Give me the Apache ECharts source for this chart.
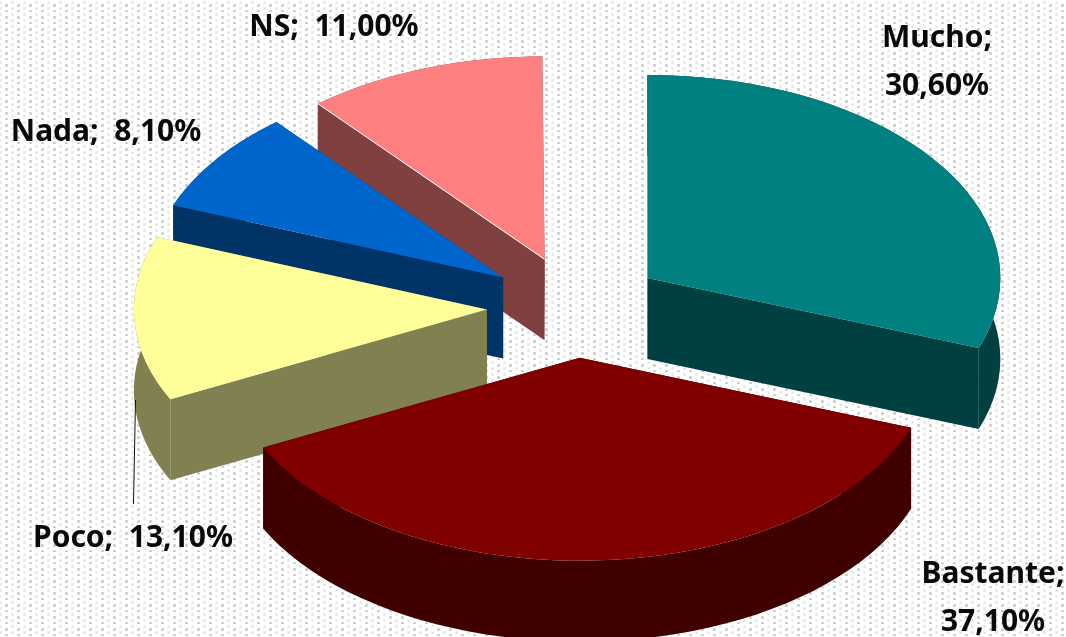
<!DOCTYPE html>
<html><head><meta charset="utf-8">
<style>html,body{margin:0;padding:0;background:#fff}#c{width:1066px;height:637px}</style>
<script src="https://cdn.jsdelivr.net/npm/echarts@6/dist/echarts.min.js"></script>
</head><body><div id="c"></div>
<script>
// Data
var categories = ['Mucho', 'Bastante', 'Poco', 'Nada', 'NS'];
var values = [30.6, 37.1, 13.1, 8.1, 11.0];
var valueLabels = ['30,60%', '37,10%', '13,10%', '8,10%', '11,00%'];

// Styles and layout
var topColors = ['#008080', '#800000', '#FFFF99', '#0066CC', '#FF8080'];
var sideColors = ['#004040', '#400000', '#808050', '#003366', '#804040'];
var paintOrder = [4, 3, 2, 0, 1];
var centre = [575, 307], rx = 353, ry = 203, depth = 81, explode = 0.25;
var labelPos = [[937, 62], [993, 598], [133, 538], [106, 132], [334, 27]];
var labelBreak = [true, true, false, false, false];

// Dotted backdrop
var tile = document.createElement('canvas');
tile.width = 12; tile.height = 12;
(function () {
  var g = tile.getContext('2d');
  g.fillStyle = '#fff'; g.fillRect(0, 0, 12, 12);
  [[6, 5, .28], [6, 11, .28], [0, 2, .12], [0, 8, .12]].forEach(function (d) {
    g.fillStyle = 'rgba(120,120,120,' + d[2] + ')';
    g.fillRect((d[0] + 11) % 12, d[1] - 1, 1, 3);
    g.fillRect(d[0], d[1] - 1, 1, 3);
    g.fillRect((d[0] + 1) % 12, d[1] - 1, 1, 3);
    g.fillStyle = 'rgba(120,120,120,' + d[2] * 1.4 + ')';
    g.fillRect(d[0], d[1], 1, 1);
  });
})();

var total = 100;
var cumulative = [];
values.reduce(function (acc, v, i) { cumulative[i] = acc; return acc + v; }, 0);

function renderSlice(params, api) {
  var i = api.value(0);
  var a0 = cumulative[i] / total * 2 * Math.PI;
  var a1 = (cumulative[i] + values[i]) / total * 2 * Math.PI;
  var mid = (a0 + a1) / 2;
  var ax = centre[0] + explode * rx * Math.sin(mid);
  var ay = centre[1] - explode * ry * Math.cos(mid);
  var arc = [];
  var n = Math.max(8, Math.ceil((a1 - a0) / 0.05));
  for (var k = 0; k <= n; k++) {
    var t = a0 + (a1 - a0) * k / n;
    arc.push([ax + rx * Math.sin(t), ay - ry * Math.cos(t)]);
  }
  var down = function (p) { return [p[0], p[1] + depth]; };
  var apex = [ax, ay];
  var children = [];
  var wall = function (pts) {
    children.push({ type: 'polygon', shape: { points: pts }, style: { fill: sideColors[i] } });
  };
  wall(arc.concat(arc.map(down).reverse()));
  wall([apex, arc[0], down(arc[0]), down(apex)]);
  wall([apex, arc[n], down(arc[n]), down(apex)]);
  children.push({ type: 'polygon', shape: { points: [apex].concat(arc) },
    style: { fill: topColors[i] } });
  if (categories[i] === 'NS') {
    children.push({ type: 'line', shape: { x1: apex[0], y1: apex[1], x2: arc[0][0], y2: arc[0][1] },
      style: { stroke: '#fff', lineWidth: 1 } });
  }
  if (categories[i] === 'Poco') {
    children.push({ type: 'line', shape: { x1: 135.5, y1: 400, x2: 133.5, y2: 504 },
      style: { stroke: '#111', lineWidth: 1 } });
  }
  children.push({ type: 'text', x: labelPos[i][0], y: labelPos[i][1], z2: 10,
    style: {
      text: categories[i] + ';' + (labelBreak[i] ? '\n' : '  ') + valueLabels[i],
      fill: '#0a0a0a', align: 'center', verticalAlign: 'middle',
      font: '700 30px "Noto Sans"', lineHeight: 48
    } });
  return { type: 'group', children: children };
}

var chart = echarts.init(document.getElementById('c'), null, { renderer: 'canvas' });
chart.setOption({
  animation: false,
  backgroundColor: { image: tile, repeat: 'repeat' },
  series: [{
    type: 'custom', coordinateSystem: 'none', silent: true,
    renderItem: renderSlice,
    data: paintOrder.map(function (i) { return { name: categories[i], value: [i, values[i]] }; })
  }]
});
</script></body></html>
